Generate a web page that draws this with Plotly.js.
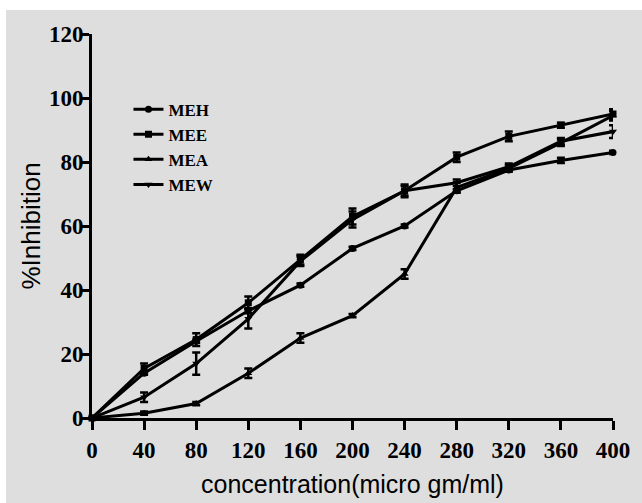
<!DOCTYPE html>
<html>
<head>
<meta charset="utf-8">
<script src="https://cdn.plot.ly/plotly-3.0.1.min.js"></script>
<style>
html,body{margin:0;padding:0;background:#ffffff;width:642px;height:503px;overflow:hidden;}
#chart{position:absolute;left:6px;top:10px;width:636px;height:493px;}
</style>
</head>
<body>
<div id="chart"></div>
<script>
var concentration = [0, 40, 80, 120, 160, 200, 240, 280, 320, 360, 400];
var seriesNames = ["MEH", "MEE", "MEA", "MEW"];
var MEH = [0, 14, 24, 33.5, 41.5, 53, 60, 71, 77.5, 80.5, 83];
var MEE = [0, 15.5, 24.5, 36, 49.5, 63, 71, 81.5, 88, 91.5, 95];
var MEA = [0, 1.5, 4.5, 14, 25, 32, 45, 72, 78, 86, 94.5];
var MEW = [0, 6.5, 17, 31, 49, 62, 71, 73.5, 78.5, 86.5, 89.5];
var MEH_err = [0, 0.5, 0.5, 0.8, 0.5, 0.5, 0.5, 0.5, 0.5, 0.8, 0.5];
var MEE_err = [0, 1.5, 2, 2, 1.5, 2.5, 2, 1.5, 1.5, 0.8, 1.5];
var MEA_err = [0, 0.5, 0.5, 1.5, 1.5, 0.5, 1.5, 1.5, 1, 1, 1.5];
var MEW_err = [0, 1.5, 3.5, 3, 1.5, 2.5, 1.5, 1, 1, 1, 2];
var xTicks = [0, 40, 80, 120, 160, 200, 240, 280, 320, 360, 400];
var yTicks = [0, 20, 40, 60, 80, 100, 120];

var values = [MEH, MEE, MEA, MEW];
var errs = [MEH_err, MEE_err, MEA_err, MEW_err];
var symbols = ["circle", "square", "triangle-up", "triangle-down"];

var traces = seriesNames.map(function (n, i) {
  return {
    x: concentration, y: values[i], name: n, type: "scatter", mode: "lines+markers",
    line: {color: "#000", width: 3},
    marker: {color: "#000", size: 7, symbol: symbols[i]},
    error_y: {type: "data", array: errs[i], visible: true, color: "#000", thickness: 2.5, width: 4},
    cliponaxis: false
  };
});
// label-only axis carrier (draws nothing)
traces.push({x: concentration, y: MEH, yaxis: "y2", type: "scatter", mode: "none",
  showlegend: false, hoverinfo: "skip"});

var tickFont = {family: "Liberation Serif", size: 23, color: "#000", weight: "bold"};

var layout = {
  width: 636, height: 493,
  paper_bgcolor: "#dedede", plot_bgcolor: "#dedede",
  margin: {l: 86, r: 29, t: 24, b: 85},
  showlegend: true,
  legend: {
    x: 0.07, y: 0.85, xanchor: "left", yanchor: "top",
    bgcolor: "rgba(0,0,0,0)", itemwidth: 30,
    font: {family: "Liberation Serif", size: 17, color: "#000", weight: "bold"}
  },
  xaxis: {
    range: [0, 400], tickvals: xTicks, ticktext: xTicks.map(String),
    showgrid: false, zeroline: false, showline: true, linecolor: "#000", linewidth: 3,
    ticks: "outside", ticklen: 9, tickwidth: 3, tickcolor: "#000",
    tickfont: tickFont,
    title: {text: "concentration(micro gm/ml)", font: {family: "Liberation Sans", size: 25, color: "#000"}, standoff: 14}
  },
  yaxis: {
    range: [0, 120], tickvals: yTicks,
    showgrid: false, zeroline: false, showline: true, linecolor: "#000", linewidth: 3,
    ticks: "outside", ticklen: 9, tickwidth: 3, tickcolor: "#000",
    showticklabels: false
  },
  yaxis2: {
    overlaying: "y", side: "left", anchor: "x",
    range: [0, 120], tickvals: yTicks, ticktext: yTicks.map(String),
    showgrid: false, zeroline: false, showline: false,
    ticks: "outside", ticklen: 3, tickwidth: 1, tickcolor: "rgba(0,0,0,0)",
    tickfont: tickFont,
    title: {text: "%Inhibition", font: {family: "Liberation Sans", size: 26, color: "#000"}, standoff: 0}
  }
};

Plotly.newPlot("chart", traces, layout, {displayModeBar: false, staticPlot: true});
</script>
</body>
</html>
